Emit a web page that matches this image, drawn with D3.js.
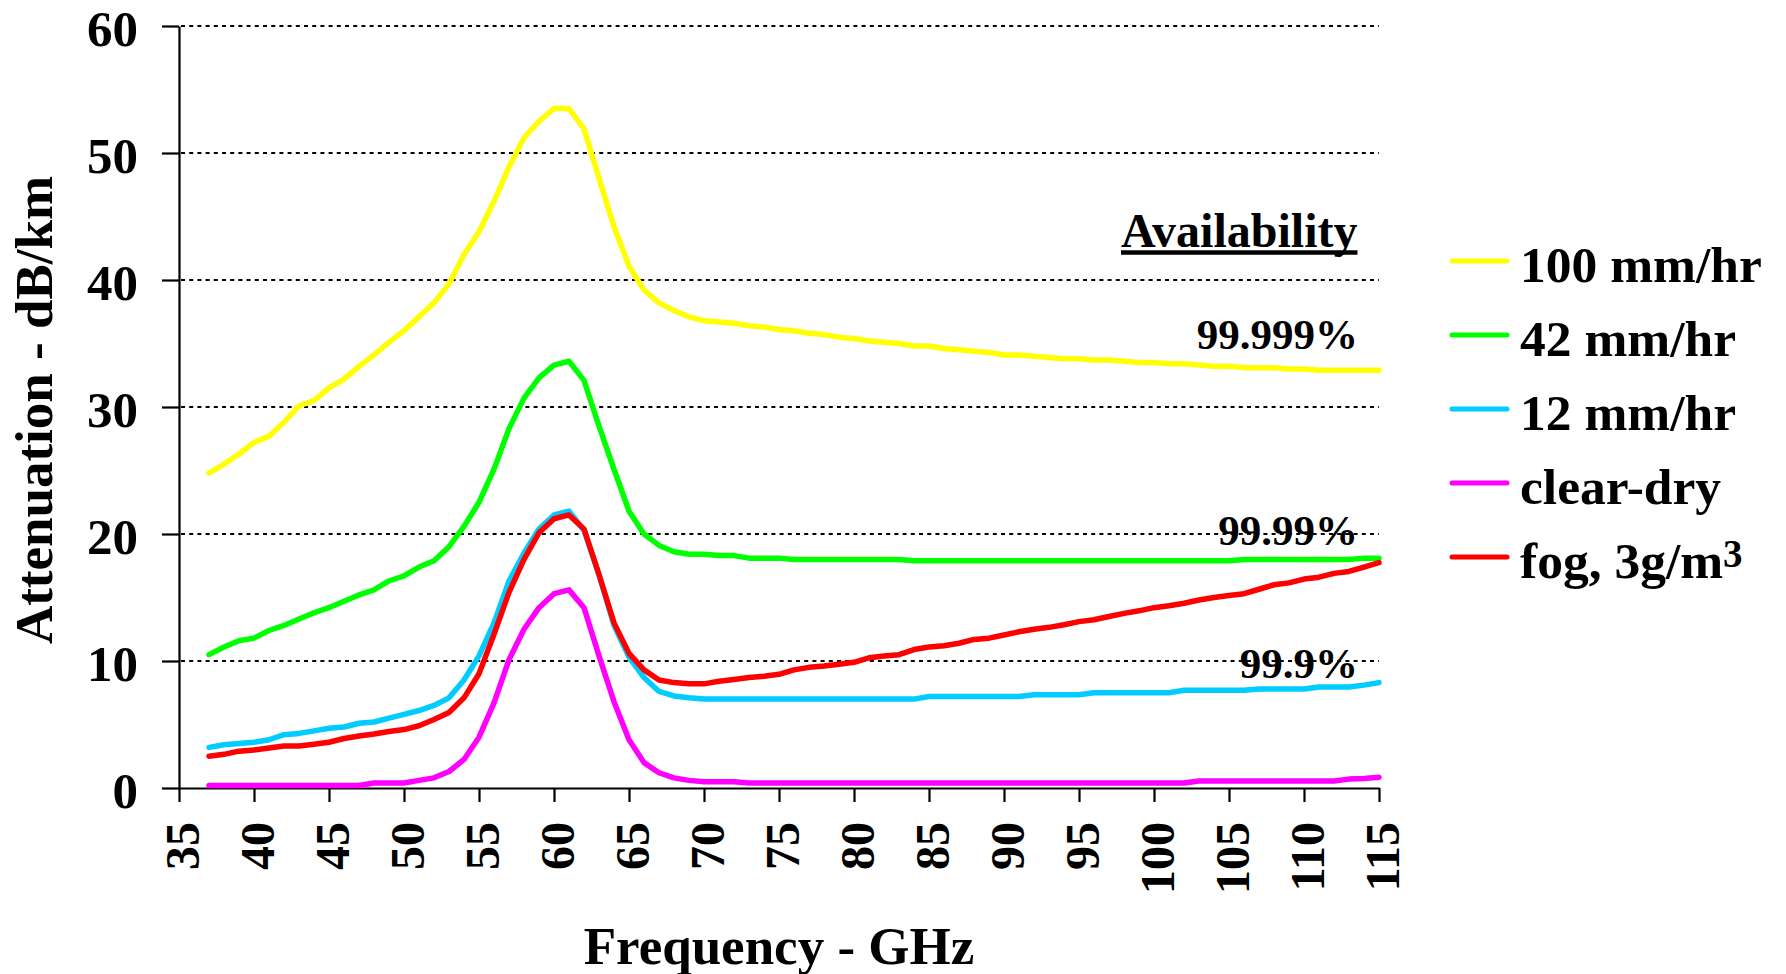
<!DOCTYPE html>
<html>
<head>
<meta charset="utf-8">
<script src="https://cdn.jsdelivr.net/npm/d3@7"></script>
<style>
  html, body { margin: 0; padding: 0; background: #fff; }
  svg { display: block; }
  text { font-family: "Liberation Serif", "Times New Roman", serif; font-weight: bold; fill: #000; }
</style>
</head>
<body>
<svg id="chart" width="1786" height="974"></svg>
<script>
// Frequency samples (GHz)
const frequencyGHz = [
  37, 38, 39, 40, 41, 42, 43, 44, 45, 46, 47, 48, 49, 50, 51, 52, 53, 54, 55, 56,
  57, 58, 59, 60, 61, 62, 63, 64, 65, 66, 67, 68, 69, 70, 71, 72, 73, 74, 75, 76,
  77, 78, 79, 80, 81, 82, 83, 84, 85, 86, 87, 88, 89, 90, 91, 92, 93, 94, 95, 96,
  97, 98, 99, 100, 101, 102, 103, 104, 105, 106, 107, 108, 109, 110, 111, 112, 113, 114, 115
];

// Specific attenuation (dB/km) for each weather condition
const rain100 = [
  24.8, 25.5, 26.3, 27.2, 27.7, 28.8, 30.1, 30.5, 31.5, 32.2, 33.2, 34.1, 35.1, 36.0, 37.1, 38.2, 39.7, 42.0, 43.8, 46.2,
  48.9, 51.2, 52.5, 53.5, 53.5, 51.9, 48.0, 44.2, 41.1, 39.2, 38.2, 37.6, 37.1, 36.8, 36.7, 36.6, 36.4, 36.3, 36.1, 36.0,
  35.8, 35.7, 35.5, 35.4, 35.2, 35.1, 35.0, 34.8, 34.8, 34.6, 34.5, 34.4, 34.3, 34.1, 34.1, 34.0, 33.9, 33.8, 33.8, 33.7,
  33.7, 33.6, 33.5, 33.5, 33.4, 33.4, 33.3, 33.2, 33.2, 33.1, 33.1, 33.1, 33.0, 33.0, 32.9, 32.9, 32.9, 32.9, 32.9
];
const rain42 = [
  10.5, 11.1, 11.6, 11.8, 12.4, 12.8, 13.3, 13.8, 14.2, 14.7, 15.2, 15.6, 16.3, 16.7, 17.4, 17.9, 19.0, 20.6, 22.5, 25.1,
  28.3, 30.7, 32.3, 33.3, 33.6, 32.1, 28.5, 25.1, 21.8, 20.0, 19.1, 18.6, 18.4, 18.4, 18.3, 18.3, 18.1, 18.1, 18.1, 18.0,
  18.0, 18.0, 18.0, 18.0, 18.0, 18.0, 18.0, 17.9, 17.9, 17.9, 17.9, 17.9, 17.9, 17.9, 17.9, 17.9, 17.9, 17.9, 17.9, 17.9,
  17.9, 17.9, 17.9, 17.9, 17.9, 17.9, 17.9, 17.9, 17.9, 18.0, 18.0, 18.0, 18.0, 18.0, 18.0, 18.0, 18.0, 18.1, 18.1
];
const rain12 = [
  3.2, 3.4, 3.5, 3.6, 3.8, 4.2, 4.3, 4.5, 4.7, 4.8, 5.1, 5.2, 5.5, 5.8, 6.1, 6.5, 7.1, 8.5, 10.4, 13.0,
  16.3, 18.5, 20.4, 21.5, 21.8, 20.3, 16.8, 12.8, 10.3, 8.7, 7.6, 7.25, 7.1, 7.0, 7.0, 7.0, 7.0, 7.0, 7.0, 7.0,
  7.0, 7.0, 7.0, 7.0, 7.0, 7.0, 7.0, 7.0, 7.2, 7.2, 7.2, 7.2, 7.2, 7.2, 7.2, 7.35, 7.35, 7.35, 7.35, 7.5,
  7.5, 7.5, 7.5, 7.5, 7.5, 7.7, 7.7, 7.7, 7.7, 7.7, 7.8, 7.8, 7.8, 7.8, 7.95, 7.95, 7.95, 8.1, 8.3
];
const clearDry = [
  0.2, 0.2, 0.2, 0.2, 0.2, 0.2, 0.2, 0.2, 0.2, 0.2, 0.2, 0.4, 0.4, 0.4, 0.6, 0.8, 1.3, 2.25, 4.0, 6.7,
  10.1, 12.5, 14.2, 15.3, 15.6, 14.2, 10.4, 6.8, 3.8, 2.0, 1.2, 0.8, 0.6, 0.5, 0.5, 0.5, 0.4, 0.4, 0.4, 0.4,
  0.4, 0.4, 0.4, 0.4, 0.4, 0.4, 0.4, 0.4, 0.4, 0.4, 0.4, 0.4, 0.4, 0.4, 0.4, 0.4, 0.4, 0.4, 0.4, 0.4,
  0.4, 0.4, 0.4, 0.4, 0.4, 0.4, 0.55, 0.55, 0.55, 0.55, 0.55, 0.55, 0.55, 0.55, 0.55, 0.55, 0.7, 0.75, 0.85
];
const fog3 = [
  2.5, 2.65, 2.9, 3.0, 3.15, 3.3, 3.3, 3.45, 3.6, 3.9, 4.1, 4.25, 4.45, 4.6, 4.9, 5.4, 5.95, 7.1, 9.0, 12.1,
  15.4, 18.0, 20.1, 21.2, 21.5, 20.4, 16.8, 13.0, 10.6, 9.3, 8.5, 8.3, 8.2, 8.2, 8.4, 8.55, 8.7, 8.8, 8.95, 9.3,
  9.5, 9.6, 9.75, 9.9, 10.25, 10.4, 10.5, 10.9, 11.1, 11.2, 11.4, 11.7, 11.8, 12.05, 12.3, 12.5, 12.65, 12.85, 13.1, 13.25,
  13.5, 13.75, 13.95, 14.2, 14.35, 14.55, 14.8, 15.0, 15.15, 15.3, 15.65, 16.0, 16.15, 16.45, 16.6, 16.9, 17.05, 17.4, 17.75
];

const seriesLabels = ["100 mm/hr", "42 mm/hr", "12 mm/hr", "clear-dry", "fog, 3g/m"];
const seriesColors = ["#ffff00", "#00ff00", "#00ccff", "#ff00ff", "#ff0000"];
const seriesValues = [rain100, rain42, rain12, clearDry, fog3];

const yTickValues = [0, 10, 20, 30, 40, 50, 60];
const xTickValues = [35, 40, 45, 50, 55, 60, 65, 70, 75, 80, 85, 90, 95, 100, 105, 110, 115];
const gridValues = [10, 20, 30, 40, 50, 60];

const availabilityTitle = "Availability";
const availabilityLabels = ["99.999%", "99.99%", "99.9%"];

// ---- layout ----
const svg = d3.select("#chart");
const x = d3.scaleLinear().domain([35, 115]).range([179, 1379]);
const y = d3.scaleLinear().domain([0, 60]).range([788, 26]);

// dotted horizontal gridlines
svg.append("g")
  .selectAll("line")
  .data(gridValues)
  .join("line")
  .attr("x1", x(35) + 2)
  .attr("x2", x(115))
  .attr("y1", d => y(d))
  .attr("y2", d => y(d))
  .attr("stroke", "#000")
  .attr("stroke-width", 2)
  .attr("stroke-dasharray", "4,4.2");

// y axis
const yAxis = svg.append("g")
  .attr("transform", `translate(${x(35)},0)`)
  .call(d3.axisLeft(y).tickValues(yTickValues).tickSize(17).tickSizeOuter(0).tickPadding(24));
yAxis.select(".domain").attr("stroke", "#000").attr("stroke-width", 2.2);
yAxis.selectAll(".tick line").attr("stroke", "#000").attr("stroke-width", 2.2);
yAxis.selectAll(".tick text")
  .attr("font-size", 51)
  .attr("font-family", "Liberation Serif, Times New Roman, serif")
  .attr("font-weight", "bold")
  .attr("fill", "#000")
  .attr("dy", 19);

// x axis
const xAxis = svg.append("g")
  .attr("transform", `translate(0,${y(0)})`)
  .call(d3.axisBottom(x).tickValues(xTickValues).tickSize(14).tickSizeOuter(0));
xAxis.select(".domain").attr("stroke", "#000").attr("stroke-width", 2.2);
xAxis.selectAll(".tick line").attr("stroke", "#000").attr("stroke-width", 2.2);
xAxis.selectAll(".tick text")
  .attr("font-size", 48)
  .attr("font-family", "Liberation Serif, Times New Roman, serif")
  .attr("font-weight", "bold")
  .attr("fill", "#000")
  .attr("transform", "rotate(-90)")
  .attr("text-anchor", "end")
  .attr("x", -34)
  .attr("y", 19)
  .attr("dy", 0);

// axis titles
svg.append("text")
  .attr("transform", `translate(52,${(y(0) + y(60)) / 2 + 3}) rotate(-90)`)
  .attr("text-anchor", "middle")
  .attr("font-size", 53)
  .text("Attenuation - dB/km");

svg.append("text")
  .attr("x", (x(35) + x(115)) / 2)
  .attr("y", 964)
  .attr("text-anchor", "middle")
  .attr("font-size", 53)
  .text("Frequency - GHz");

// attenuation curves
const line = d3.line()
  .x((d, i) => x(frequencyGHz[i]))
  .y(d => y(d));

svg.append("g")
  .selectAll("path")
  .data(seriesValues)
  .join("path")
  .attr("d", d => line(d))
  .attr("fill", "none")
  .attr("stroke", (d, i) => seriesColors[i])
  .attr("stroke-width", 5.5)
  .attr("stroke-linejoin", "round")
  .attr("stroke-linecap", "round");

// availability annotations
const availTitle = svg.append("text")
  .attr("x", 1121)
  .attr("y", 247)
  .attr("font-size", 48)
  .text(availabilityTitle);
const tb = availTitle.node().getBBox();
svg.append("line")
  .attr("x1", tb.x)
  .attr("x2", tb.x + tb.width)
  .attr("y1", 252.5)
  .attr("y2", 252.5)
  .attr("stroke", "#000")
  .attr("stroke-width", 4.5);

const availabilityLevels = [34.6, 19.1, 8.7];
svg.append("g")
  .selectAll("text")
  .data(availabilityLabels)
  .join("text")
  .attr("x", 1358)
  .attr("y", (d, i) => y(availabilityLevels[i]))
  .attr("text-anchor", "end")
  .attr("font-size", 43)
  .text(d => d);

// legend
const legend = svg.append("g");
const legendRows = legend.selectAll("g")
  .data(seriesLabels)
  .join("g")
  .attr("transform", (d, i) => `translate(0,${261 + i * 74})`);

legendRows.append("line")
  .attr("x1", 1452)
  .attr("x2", 1507)
  .attr("y1", 0)
  .attr("y2", 0)
  .attr("stroke", (d, i) => seriesColors[i])
  .attr("stroke-width", 5)
  .attr("stroke-linecap", "round");

const legendText = legendRows.append("text")
  .attr("x", 1520)
  .attr("y", 20.5)
  .attr("font-size", 51.5)
  .text(d => d);

// cubic-metre superscript on the fog entry
legendText.filter((d, i) => i === seriesLabels.length - 1)
  .append("tspan")
  .attr("font-size", 39)
  .attr("dy", -11)
  .text("3");
</script>
</body>
</html>
